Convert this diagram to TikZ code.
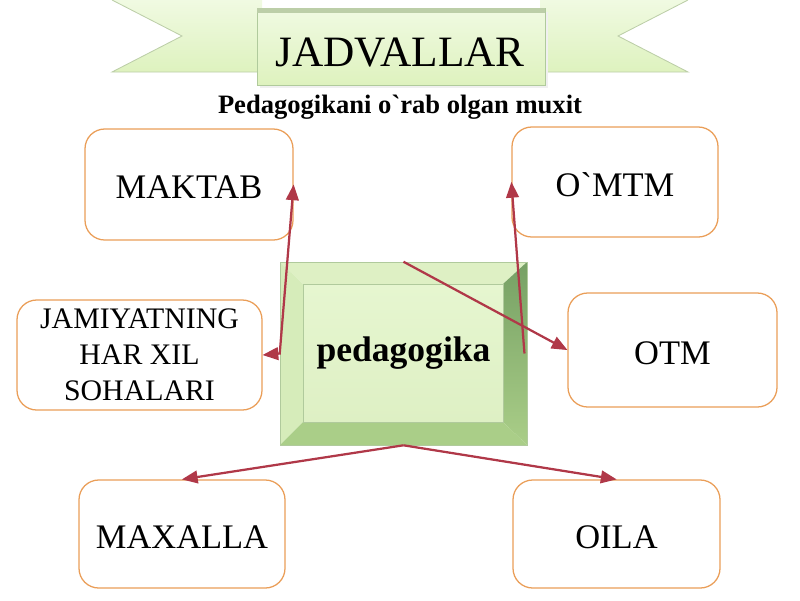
\documentclass[tikz,border=0pt]{standalone}
\usepackage{fontspec}
\setmainfont{Liberation Serif}
\usetikzlibrary{arrows}

\definecolor{boxedge}{RGB}{234,158,88}
\definecolor{linkred}{RGB}{176,56,72}
\definecolor{ribbon}{RGB}{222,242,190}
\definecolor{ribbonlight}{RGB}{240,250,226}
\definecolor{ribbonfold}{RGB}{188,206,168}
\definecolor{facegreen}{RGB}{230,246,208}
\definecolor{bevtop}{RGB}{222,240,196}
\definecolor{bevleft}{RGB}{214,236,186}
\definecolor{bevright}{RGB}{118,160,100}
\definecolor{bevbottom}{RGB}{170,206,136}
\definecolor{bevedge}{RGB}{176,202,156}

\tikzset{
  place/.style={draw=boxedge, line width=0.9pt, rounded corners=14pt, fill=white,
    align=center, inner sep=0pt, font=\fontsize{24.5}{29}\selectfont},
  link/.style={draw=linkred, line width=1.6pt, ->},
}

\begin{document}
\begin{tikzpicture}[x=0.025cm,y=-0.025cm,>=triangle 45]
  \useasboundingbox (0,0) rectangle (800,600);

  % banner
  \shade[top color=ribbonlight, bottom color=ribbon] (112,0) -- (262,0) -- (262,72) -- (112,72) -- (182,36) -- cycle;
  \shade[top color=ribbonlight, bottom color=ribbon] (688,0) -- (540,0) -- (540,72) -- (688,72) -- (618,36) -- cycle;
  \draw[ribbonfold, line width=0.6pt] (112,0) -- (182,36) -- (112,72) -- (262,72);
  \draw[ribbonfold, line width=0.6pt] (688,0) -- (618,36) -- (688,72) -- (540,72);
  \fill[black!6] (260,12) rectangle (548,88);
  \shade[top color=ribbonlight, bottom color=ribbon, draw=bevedge] (257,8) rectangle (545,85);
  \fill[ribbonfold] (257,8) rectangle (545,13);
  \node[font=\fontsize{30.8}{36}\selectfont] (title) at (400,53) {JADVALLAR};
  \node[font=\bfseries\fontsize{18.9}{22}\selectfont] (subtitle) at (400,107) {Pedagogikani o\textasciigrave rab olgan muxit};

  % bevelled centre block
  \fill[bevtop] (280,262) -- (527,262) -- (503,284) -- (303,284) -- cycle;
  \fill[bevleft] (280,262) -- (303,284) -- (303,422) -- (280,445) -- cycle;
  \shade[top color=bevright, bottom color=bevbottom] (527,262) -- (527,445) -- (503,422) -- (503,284) -- cycle;
  \fill[bevbottom] (280,445) -- (527,445) -- (503,422) -- (303,422) -- cycle;
  \shade[top color=facegreen, bottom color=bevtop] (303,284) rectangle (503,422);
  \draw[bevedge, line width=0.5pt] (280,262) rectangle (527,445);
  \draw[bevedge, line width=0.5pt] (303,284) rectangle (503,422);
  \node[font=\bfseries\fontsize{25.3}{30}\selectfont, inner sep=0pt,
    minimum width=247*0.025cm, minimum height=183*0.025cm] (ped) at (403.5,353.5) {pedagogika};

  % surrounding boxes
  \foreach \name/\x/\y/\w/\h/\txt in {maktab/189/184.5/208/111/MAKTAB,
    omtm/615/182/206/110/O\textasciigrave MTM,
    otm/672.5/350/209/114/OTM,
    maxalla/182/534/206/108/MAXALLA,
    oila/616.5/534/207/108/OILA}
  {
    \node[place, minimum width=\w*0.025cm, minimum height=\h*0.025cm,
      text height=20pt, text depth=0pt] (\name) at (\x,\y) {\txt};
  }
  \node[place, font=\fontsize{21.2}{25.6}\selectfont,
    minimum width=245*0.025cm, minimum height=110*0.025cm] (jam) at (139.5,355)
    {JAMIYATNING\\HAR XIL\\SOHALARI};

  % links
  \draw[link,<->] (maktab.east) -- (ped.west) -- (jam.east);
  \draw[link] ([xshift=-2pt]ped.east) -- (omtm.west);
  \draw[link] (ped.north) -- (otm.west);
  \draw[link] (ped.south) -- (maxalla.north);
  \draw[link] (ped.south) -- (oila.north);
\end{tikzpicture}
\end{document}
